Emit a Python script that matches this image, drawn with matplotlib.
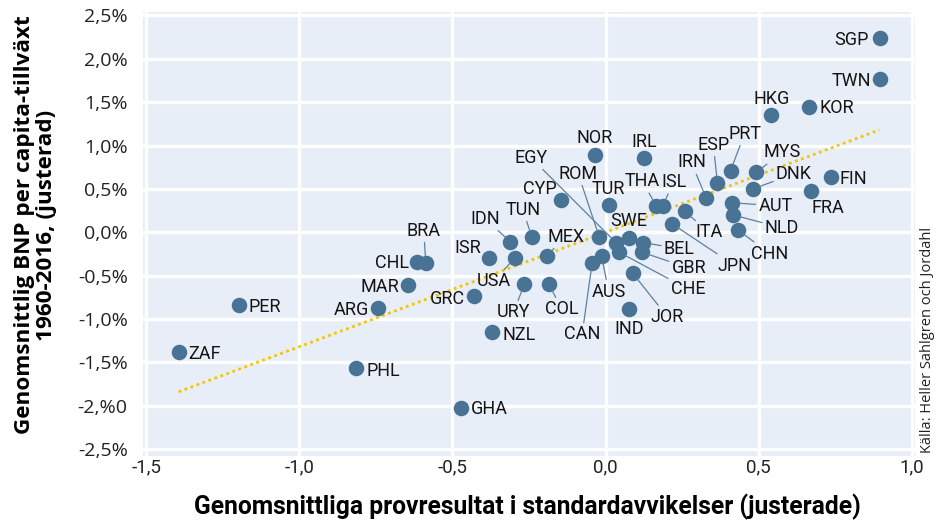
import matplotlib
matplotlib.use("Agg")
import matplotlib.pyplot as plt

# country codes, test scores (std. dev.) and average GDP/capita growth (%)
countries = ["SGP", "TWN", "HKG", "KOR", "FIN", "FRA", "MYS", "DNK", "AUT", "NLD",
             "CHN", "PRT", "ESP", "IRN", "ITA", "JPN", "THA", "ISL", "TUR", "NOR",
             "IRL", "CYP", "TUN", "IDN", "ISR", "USA", "MEX", "URY", "COL", "GRC",
             "NZL", "EGY", "ROM", "SWE", "BEL", "GBR", "CHE", "AUS", "CAN", "JOR",
             "IND", "CHL", "BRA", "MAR", "ARG", "PER", "ZAF", "PHL", "GHA"]
scores = [0.895, 0.895, 0.539, 0.663, 0.737, 0.672, 0.492, 0.481, 0.414, 0.416,
          0.431, 0.408, 0.365, 0.329, 0.259, 0.216, 0.166, 0.186, 0.010, -0.035,
          0.126, -0.146, -0.241, -0.311, -0.381, -0.297, -0.192, -0.265, -0.185, -0.430,
          -0.371, 0.034, -0.021, 0.076, 0.123, 0.119, 0.044, -0.013, -0.044, 0.088,
          0.076, -0.614, -0.587, -0.646, -0.742, -1.198, -1.394, -0.815, -0.472]
growth = [2.24, 1.77, 1.35, 1.45, 0.64, 0.47, 0.69, 0.50, 0.34, 0.20,
          0.03, 0.71, 0.57, 0.39, 0.24, 0.10, 0.30, 0.30, 0.31, 0.89,
          0.86, 0.37, -0.05, -0.11, -0.30, -0.30, -0.27, -0.60, -0.60, -0.74,
          -1.15, -0.12, -0.05, -0.07, -0.12, -0.23, -0.23, -0.27, -0.36, -0.47,
          -0.88, -0.34, -0.35, -0.61, -0.87, -0.84, -1.38, -1.56, -2.03]

# dotted trend line end points
trend_x = [-1.394, 0.894]
trend_y = [-1.84, 1.18]

xticks = [-1.5, -1.0, -0.5, 0.0, 0.5, 1.0]
xticklabels = ["-1,5", "-1,0", "-0,5", "0,0", "0,5", "1,0"]
yticks = [2.5, 2.0, 1.5, 1.0, 0.5, 0.0, -0.5, -1.0, -1.5, -2.0, -2.5]
yticklabels = ["2,5%", "2,0%", "1,5%", "1,0%", "0,5%", "0,0%", "-0,5%",
               "-1,0%", "-1,5%", "-2,%0", "-2,5%"]

# label offsets in pixels (dx, dy) and whether a leader line is drawn
label_pos = {
    "SGP": (-28, -2, False), "TWN": (-28, -2, False), "HKG": (1, 16, False),
    "KOR": (28, -1, False), "FIN": (22, -2, False), "FRA": (17, -17, False),
    "MYS": (26, 20, True), "DNK": (41, 15, True), "AUT": (43, -3, True),
    "NLD": (49, -13, True), "CHN": (32, -24, True), "PRT": (14, 37, True),
    "ESP": (-4, 38, True), "IRN": (-15, 36, True), "ITA": (24, -21, True),
    "JPN": (63, -42, True), "THA": (-14, 25, True), "ISL": (11, 24, True),
    "TUR": (0, 16, False), "NOR": (0, 17, False), "IRL": (0, 16, False),
    "CYP": (-21, 11, False), "TUN": (-9, 27, True), "IDN": (-25, 23, True),
    "ISR": (-21, 10, False), "USA": (-21, -23, True), "MEX": (19, 19, True),
    "URY": (-11, -28, True), "COL": (13, -25, True), "GRC": (-26, -3, False),
    "NZL": (27, -3, False), "EGY": (-85, 85, True), "ROM": (-21, 63, True),
    "SWE": (0, 17, False), "BEL": (36, -6, True), "GBR": (47, -16, True),
    "CHE": (69, -37, True), "AUS": (7, -36, True), "CAN": (-10, -71, True),
    "JOR": (35, -44, True), "IND": (0, -20, False), "CHL": (-25, -1, False),
    "BRA": (-2, 32, True), "MAR": (-28, -2, False), "ARG": (-27, -2, False),
    "PER": (26, -2, False), "ZAF": (26, -2, False), "PHL": (27, -3, False),
    "GHA": (28, -1, False),
}

dot_color = "#487394"
line_color = "#5e819f"

fig = plt.figure(figsize=(9.39, 5.21), dpi=100)
ax = fig.add_axes([0.1523, 0.1248, 0.8221, 0.8522])
ax.set_facecolor("#e8eef8")
for s in ax.spines.values():
    s.set_visible(False)
ax.grid(True, color="white", lw=2.4)
ax.set_axisbelow(True)

ax.plot(trend_x, trend_y, color="#f5c400", lw=2, linestyle=(0, (1, 1.3)), zorder=2)
ax.scatter(scores, growth, s=125, color=dot_color, zorder=3, linewidths=0)

for name, x, y in zip(countries, scores, growth):
    dx, dy, leader = label_pos[name]
    props = None
    if leader:
        props = dict(arrowstyle="-", color=line_color, lw=0.9, shrinkA=0, shrinkB=5)
    ax.annotate(name, (x, y), xytext=(dx, dy), textcoords="offset pixels",
                ha="center", va="center", fontsize=13, family="Roboto",
                color="#151515", arrowprops=props, zorder=4)

ax.set_xlim(-1.51, 1.01)
ax.set_ylim(-2.58, 2.54)
ax.set_xticks(xticks)
ax.set_xticklabels(xticklabels, family="Roboto", fontsize=13.5)
ax.set_yticks(yticks)
ax.set_yticklabels(yticklabels, family="Open Sans", fontsize=14)
ax.tick_params(length=0, colors="#222222")
ax.tick_params(axis="y", pad=11)
ax.tick_params(axis="x", pad=2)

fig.text(0.562, 0.028, "Genomsnittliga provresultat i standardavvikelser (justerade)",
         ha="center", va="center", fontsize=17.7, fontweight="bold", family="Roboto")
fig.text(0.038, 0.568, "Genomsnittlig BNP per capita-tillväxt\n1960-2016, (justerad)",
         ha="center", va="center", rotation=90, fontsize=16.2, fontweight="bold",
         family="Open Sans", linespacing=1.1)
fig.text(0.988, 0.13, "Källa: Heller Sahlgren och Jordahl", ha="center", va="bottom",
         rotation=90, fontsize=10.5, family="Open Sans", color="#222222")

fig.savefig("out.png", dpi=100)
